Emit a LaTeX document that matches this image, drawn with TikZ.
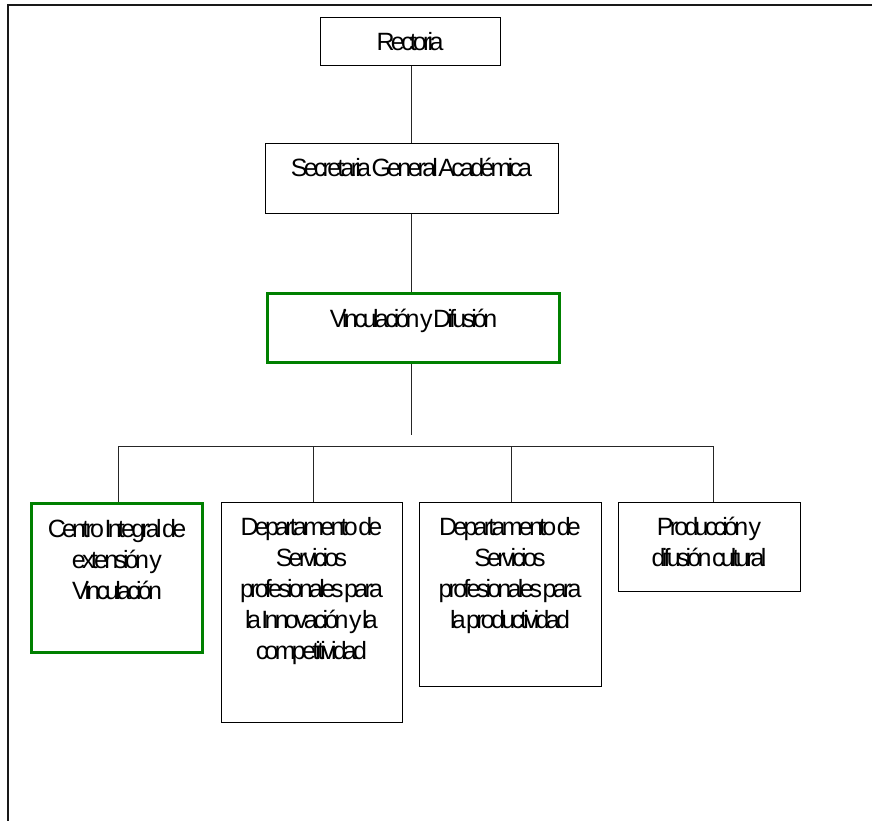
\documentclass[tikz,border=0pt]{standalone}
\usepackage{fontspec}
\newfontfamily\boxfont{Liberation Sans}[LetterSpace=-15]
\newcommand\tightbox{\boxfont\fontsize{25}{31}\selectfont}
% narrow word gap used inside the box labels
\newcommand\gap{\hskip 0.5pt\relax}
\definecolor{framegreen}{RGB}{0,128,0}
\begin{document}
\begin{tikzpicture}[x=1pt,y=-1pt,
  unit/.style={draw=black, line width=1pt, rectangle, inner sep=0pt, fill=white},
  keyunit/.style={draw=framegreen, line width=3pt, rectangle, inner sep=0pt, fill=white},
  lbl/.style={anchor=base, inner sep=0pt, yshift=-34pt, font=\tightbox},
  link/.style={draw=black!85, line width=0.8pt}]
\useasboundingbox (0,0) rectangle (872,820);
% outer page frame, open to the right and bottom
\draw[line width=1.6pt, black!90] (8,830) -- (8,5) -- (880,5);

% boxes
\node[unit, minimum width=180pt, minimum height=48pt] (rect) at (410,41) {};
\node[unit, minimum width=293pt, minimum height=70pt] (sga) at (411.5,178) {};
\node[keyunit, minimum width=292pt, minimum height=69pt] (vyd) at (413.5,328) {};
\node[keyunit, minimum width=171pt, minimum height=149pt] (cie) at (117,578) {};
\node[unit, minimum width=181pt, minimum height=220pt] (dsi) at (311.5,612) {};
\node[unit, minimum width=182pt, minimum height=184pt] (dsp) at (510,594) {};
\node[unit, minimum width=182pt, minimum height=89pt] (pdc) at (709,546.5) {};

% labels
\node[lbl] (rect-t) at (rect.north) {Rectoria};
\node[lbl] (sga-t) at (sga.north) {Secretaria\gap General\gap Académica};
\node[lbl] (vyd-t) at ([yshift=-1.5pt]vyd.north) {Vinculación\gap y\gap Difusión};
\node[lbl] (cie-t) at ([yshift=-1.5pt]cie.north) {\begin{tabular}[t]{@{}c@{}}Centro\gap Integral\gap de\\extensión\gap y\\Vinculación\end{tabular}};
\node[lbl] (dsi-t) at (dsi.north) {\begin{tabular}[t]{@{}c@{}}Departamento\gap de\\Servicios\\profesionales\gap para\\la\gap Innovación\gap y\gap la\\competitividad\end{tabular}};
\node[lbl] (dsp-t) at (dsp.north) {\begin{tabular}[t]{@{}c@{}}Departamento\gap de\\Servicios\\profesionales\gap para\\la\gap productividad\end{tabular}};
\node[lbl] (pdc-t) at (pdc.north) {\begin{tabular}[t]{@{}c@{}}Producción\gap y\\difusión\gap cultural\end{tabular}};

% connectors
\coordinate (stem) at (411,435);
\coordinate (d1) at (118,446);
\coordinate (d2) at (313,446);
\coordinate (d3) at (511,446);
\coordinate (d4) at (713,446);
\draw[link] (rect.south -| 411,0) -- (sga.north -| 411,0);
\draw[link] (sga.south -| 411,0) -- (vyd.north -| 411,0);
\draw[link] (vyd.south -| stem) -- (stem);
\draw[link] (d1) -- (d4);
\draw[link] (d1) -- (d1 |- cie.north);
\draw[link] (d2) -- (d2 |- dsi.north);
\draw[link] (d3) -- (d3 |- dsp.north);
\draw[link] (d4) -- (d4 |- pdc.north);
\end{tikzpicture}
\end{document}
